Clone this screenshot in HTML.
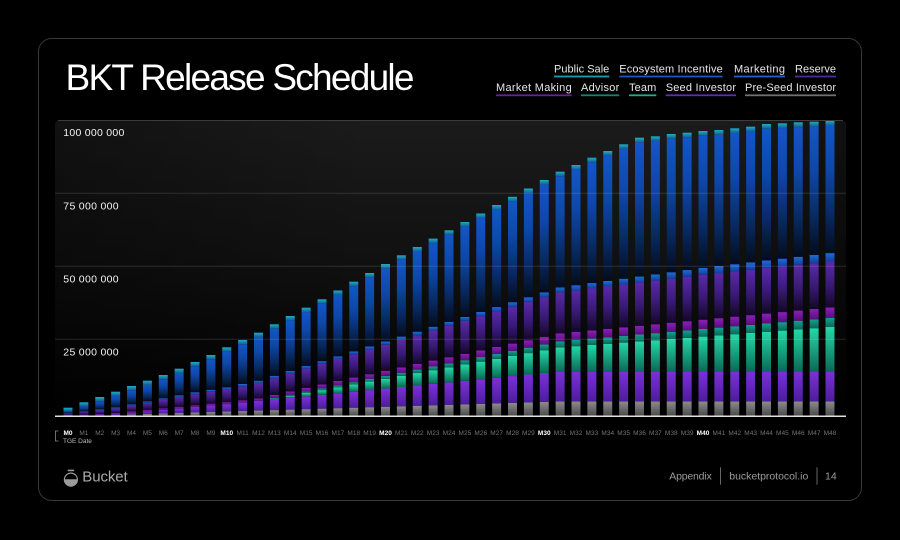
<!DOCTYPE html>
<html><head><meta charset="utf-8">
<style>
html,body{margin:0;padding:0;background:#000;width:900px;height:540px;overflow:hidden;}
svg{display:block;font-family:"Liberation Sans",Arial,sans-serif;}
</style></head><body>
<svg id="s" width="900" height="540" viewBox="0 0 900 540" xmlns="http://www.w3.org/2000/svg">
<defs>
 <linearGradient id="bg" x1="0" y1="0" x2="0" y2="1">
   <stop offset="0" stop-color="#1b1b1b"/>
   <stop offset="0.5" stop-color="#101010"/>
   <stop offset="1" stop-color="#000"/>
 </linearGradient>
 <linearGradient id="bgx" x1="0" y1="0" x2="1" y2="0">
   <stop offset="0" stop-color="#000" stop-opacity="0.35"/>
   <stop offset="0.4" stop-color="#000" stop-opacity="0"/>
   <stop offset="0.85" stop-color="#000" stop-opacity="0"/>
   <stop offset="1" stop-color="#000" stop-opacity="0.4"/>
 </linearGradient>
 <linearGradient id="gGrey" x1="0" y1="0" x2="0" y2="1"><stop offset="0" stop-color="#8c8c8c"/><stop offset="1" stop-color="#4a4a4a"/></linearGradient>
 <linearGradient id="gSeed" x1="0" y1="0" x2="0" y2="1"><stop offset="0" stop-color="#7c30da"/><stop offset="1" stop-color="#4c1d9c"/></linearGradient>
 <linearGradient id="gTeam" x1="0" y1="0" x2="0" y2="1"><stop offset="0" stop-color="#24d8a6"/><stop offset="1" stop-color="#0a6a55"/></linearGradient>
 <linearGradient id="gAdv" x1="0" y1="0" x2="0" y2="1"><stop offset="0" stop-color="#14a08c"/><stop offset="1" stop-color="#0a675b"/></linearGradient>
 <linearGradient id="gMM" x1="0" y1="0" x2="0" y2="1"><stop offset="0" stop-color="#8e1eb6"/><stop offset="1" stop-color="#560f80"/></linearGradient>
 <linearGradient id="gRes" x1="0" y1="0" x2="0" y2="1"><stop offset="0" stop-color="#5a2aa8"/><stop offset="0.5" stop-color="#3a1a78"/><stop offset="1" stop-color="#120826"/></linearGradient>
 <linearGradient id="gMkt" x1="0" y1="0" x2="0" y2="1"><stop offset="0" stop-color="#1e6cda"/><stop offset="1" stop-color="#123f9a"/></linearGradient>
 <linearGradient id="gEco" x1="0" y1="0" x2="0" y2="1"><stop offset="0" stop-color="#1356c8"/><stop offset="0.35" stop-color="#0d47a8"/><stop offset="0.7" stop-color="#082a62"/><stop offset="1" stop-color="#040c1c"/></linearGradient>
 <linearGradient id="gPub" x1="0" y1="0" x2="0" y2="1"><stop offset="0" stop-color="#22aacb"/><stop offset="1" stop-color="#0e628e"/></linearGradient>
</defs>
<rect width="900" height="540" fill="#000"/>
<rect x="38.5" y="38.5" width="823" height="462" rx="13" fill="#000" stroke="#383838"/>

<text x="65.5" y="90" font-size="37" fill="#fff" textLength="349" lengthAdjust="spacing">BKT Release Schedule</text>

<!-- legend -->
<g font-size="11" fill="#e6e6e6">
 <text x="554" y="72.3" textLength="55.3" lengthAdjust="spacing">Public Sale</text>
 <rect x="554" y="75.6" width="55.3" height="1.8" fill="#1a9ab4"/>
 <text x="619.3" y="72.3" textLength="103.4" lengthAdjust="spacing">Ecosystem Incentive</text>
 <rect x="619.3" y="75.6" width="103.4" height="1.8" fill="#1a58c0"/>
 <text x="734" y="72.3" textLength="51" lengthAdjust="spacing">Marketing</text>
 <rect x="734" y="75.6" width="51" height="1.8" fill="#1f62cc"/>
 <text x="795" y="72.3" textLength="41" lengthAdjust="spacing">Reserve</text>
 <rect x="795" y="75.6" width="41" height="1.8" fill="#4c2c98"/>

 <text x="496" y="91" textLength="75.7" lengthAdjust="spacing">Market Making</text>
 <rect x="496" y="94.4" width="75.7" height="1.8" fill="#6e1ca0"/>
 <text x="581" y="91" textLength="38.3" lengthAdjust="spacing">Advisor</text>
 <rect x="581" y="94.4" width="38.3" height="1.8" fill="#108474"/>
 <text x="629" y="91" textLength="27.3" lengthAdjust="spacing">Team</text>
 <rect x="629" y="94.4" width="27.3" height="1.8" fill="#1aae8a"/>
 <text x="665.7" y="91" textLength="70.3" lengthAdjust="spacing">Seed Investor</text>
 <rect x="665.7" y="94.4" width="70.3" height="1.8" fill="#5e2ac0"/>
 <text x="745" y="91" textLength="91" lengthAdjust="spacing">Pre-Seed Investor</text>
 <rect x="745" y="94.4" width="91" height="1.8" fill="#707070"/>
</g>

<!-- chart background -->
<path d="M55,126 Q55,120 61,120 H840 Q846,120 846,126 V416 H55 Z" fill="url(#bg)"/>
<path d="M55,126 Q55,120 61,120 H840 Q846,120 846,126 V416 H55 Z" fill="url(#bgx)"/>

<g id="bars"></g>

<!-- gridlines -->
<line x1="58" y1="120.5" x2="843" y2="120.5" stroke="#3c3c3c" stroke-width="1"/>
<line x1="55" y1="193.3" x2="846" y2="193.3" stroke="#fff" stroke-opacity="0.13" stroke-width="1"/>
<line x1="55" y1="266.3" x2="846" y2="266.3" stroke="#fff" stroke-opacity="0.13" stroke-width="1"/>
<line x1="55" y1="339.3" x2="846" y2="339.3" stroke="#fff" stroke-opacity="0.13" stroke-width="1"/>
<line x1="55" y1="416.2" x2="846" y2="416.2" stroke="#e0e0e0" stroke-width="1.5"/>

<!-- y labels -->
<g font-size="10.5" fill="#f2f2f2">
 <text x="63.3" y="136" textLength="61" lengthAdjust="spacing">100 000 000</text>
 <text x="63.3" y="209.3" textLength="55.3" lengthAdjust="spacing">75 000 000</text>
 <text x="63.3" y="282.6" textLength="55.3" lengthAdjust="spacing">50 000 000</text>
 <text x="63.3" y="355.5" textLength="55.3" lengthAdjust="spacing">25 000 000</text>
</g>

<g id="xl" font-size="6.5" text-anchor="middle"></g>
<path d="M58.5,431 H55.5 V441 H58.5" fill="none" stroke="#8a8a8a" stroke-width="0.8"/>
<text x="63" y="443" font-size="6.5" fill="#bdbdbd">TGE Date</text>

<!-- footer -->
<rect x="67.6" y="469.6" width="6.6" height="1.6" rx="0.8" fill="#9a9a9a"/>
<circle cx="70.9" cy="479.6" r="6.5" fill="none" stroke="#9a9a9a" stroke-width="1.2"/>
<path d="M64.4,479.2 H77.4 A6.5,6.5 0 0 1 64.4,479.2 Z" fill="#9a9a9a"/>
<text x="82.3" y="481.3" font-size="15" fill="#aaaaaa" textLength="45.4" lengthAdjust="spacing">Bucket</text>

<g font-size="10.5" fill="#9a9a9a">
 <text x="669.3" y="479.7" textLength="42.4" lengthAdjust="spacing">Appendix</text>
 <rect x="720" y="467.3" width="1" height="17.4" fill="#666"/>
 <text x="729.3" y="479.7" textLength="79" lengthAdjust="spacing">bucketprotocol.io</text>
 <rect x="816.5" y="467.3" width="1" height="17.4" fill="#666"/>
 <text x="825" y="479.7">14</text>
</g>
</svg>
<script>
(function(){
var NS="http://www.w3.org/2000/svg";
var T=[8.3,13.7,19,24.3,30,35.3,41,47.3,54,61,68.7,76,83.3,91.7,100,108.3,116.7,125.5,134.3,143,152,160.7,169,177.4,185.7,194,202.5,211,219.2,227.5,236,244.3,251,258.3,265,271.7,278.3,279.7,282,283.3,285,286,287.7,289.3,292,292.7,293.7,294.3,295.3];
function L(a,m){if(m<=a[0][0])return a[0][1];for(var i=1;i<a.length;i++){if(m<=a[i][0]){var x0=a[i-1][0],y0=a[i-1][1],x1=a[i][0],y1=a[i][1];return y0+(y1-y0)*(m-x0)/(x1-x0);}}return a[a.length-1][1];}
var S=[
 ['gGrey',[[0,0.4],[2,0.6],[31,14.6],[48,14.6]]],
 ['gSeed',[[0,0.6],[3,0.9],[10,7.4],[31,30],[48,30]]],
 ['gTeam',[[0,0],[12,0],[13,0.8],[31,24],[48,44.4]]],
 ['gAdv',[[0,0],[12,0],[13,0.8],[17,2],[31,6],[48,9]]],
 ['gMM',[[0,0.3],[4,1.3],[10,2],[17,4.3],[31,8],[48,10.5]]],
 ['gRes',[[0,1],[4,5.7],[8,11],[10,12.7],[17,22],[31,41],[40,45],[48,46]]],
 ['gMkt',[[0,0.6],[8,2],[17,2.7],[31,5],[48,8.4]]]
];
var PUB=[[0,3.4],[2,4.2],[48,4.8]];
var g=document.getElementById('bars');
var xl=document.getElementById('xl');
var W=9;
function rect(x,y,h,f){if(h<=0.05)return;var r=document.createElementNS(NS,'rect');r.setAttribute('x',x.toFixed(2));r.setAttribute('y',y.toFixed(2));r.setAttribute('width',W);r.setAttribute('height',h.toFixed(2));r.setAttribute('fill','url(#'+f+')');g.appendChild(r);}
for(var m=0;m<=48;m++){
 var cx=68+m*15.875, x=cx-W/2, y=416, sum=0;
 for(var k=0;k<S.length;k++){var h=L(S[k][1],m);rect(x,y-h,h,S[k][0]);y-=h;sum+=h;}
 var pub=L(PUB,m);
 var eco=T[m]-sum-pub; if(eco<0)eco=0;
 rect(x,y-eco,eco,'gEco');y-=eco;
 rect(x,y-pub,pub,'gPub');
 var t=document.createElementNS(NS,'text');
 t.setAttribute('x',cx.toFixed(2));t.setAttribute('y','435');
 if(m%10===0){t.setAttribute('fill','#ffffff');t.setAttribute('font-weight','bold');}
 else t.setAttribute('fill','#737373');
 t.textContent='M'+m;xl.appendChild(t);
}
})();
</script>
</body></html>
